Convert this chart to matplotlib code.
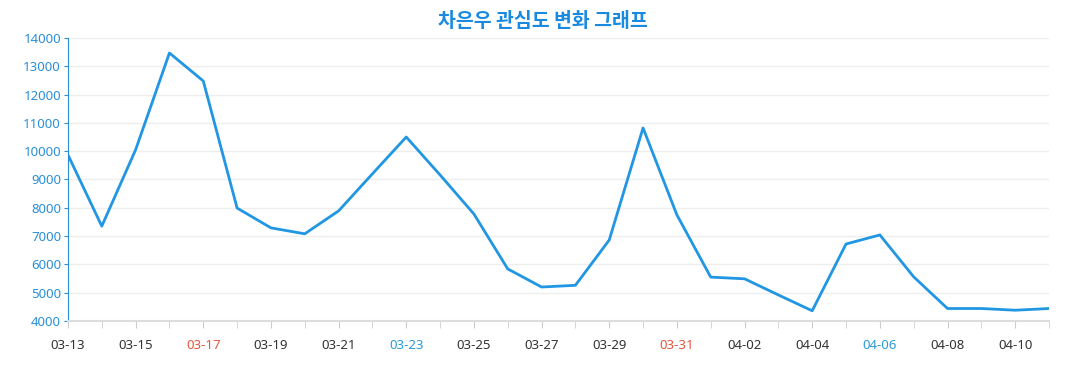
import matplotlib
matplotlib.use('Agg')
import matplotlib.pyplot as plt
import numpy as np

dates = ['03-13', '03-14', '03-15', '03-16', '03-17', '03-18', '03-19', '03-20',
         '03-21', '03-22', '03-23', '03-24', '03-25', '03-26', '03-27', '03-28',
         '03-29', '03-30', '03-31', '04-01', '04-02', '04-03', '04-04', '04-05',
         '04-06', '04-07', '04-08', '04-09', '04-10', '04-11']
values = [9870, 7350, 10050, 13470, 12480, 7990, 7290, 7080,
          7890, 9200, 10500, 9160, 7780, 5840, 5200, 5260,
          6860, 10820, 7750, 5550, 5490, 4920, 4360, 6720,
          7040, 5560, 4440, 4440, 4380, 4440]
red_days = ['03-17', '03-31']
blue_days = ['03-23', '04-06']

plt.rcParams['font.family'] = ['Noto Sans', 'Noto Sans CJK KR', 'DejaVu Sans']

fig = plt.figure(figsize=(10.77, 3.9), dpi=100)
ax = fig.add_axes([0.0631, 0.177, 0.9109, 0.7256])

x = np.arange(len(dates))
ax.plot(x, values, color='#2196e3', linewidth=2)

ax.set_xlim(0, len(dates) - 1)
ax.set_ylim(4000, 14000)
ax.set_yticks(np.arange(4000, 14001, 1000))
ax.set_xticks(x, minor=True)
ax.set_xticks(x[::2])
ax.set_xticklabels(dates[::2])

ax.grid(axis='y', color='#eeeeee', linewidth=1)
ax.set_axisbelow(True)

for s in ['top', 'right']:
    ax.spines[s].set_visible(False)
ax.spines['left'].set_color('#2a8fd8')
ax.spines['bottom'].set_color('#dddddd')
ax.spines['bottom'].set_linewidth(1.5)

ax.tick_params(axis='y', colors='#2a8fd8', labelsize=9.5, length=3, pad=2)
ax.tick_params(axis='x', which='both', color='#cccccc', length=5, labelsize=9.5,
               labelcolor='#333333', pad=8)

for lbl in ax.get_xticklabels():
    t = lbl.get_text()
    if t in red_days:
        lbl.set_color('#e2583e')
    elif t in blue_days:
        lbl.set_color('#2a9ad6')

fig.text(0.504, 0.945, '차은우 관심도 변화 그래프', ha='center', va='center',
         fontsize=14, fontweight='bold', color='#1a8ae0',
         family=['Noto Sans CJK KR', 'DejaVu Sans'])

fig.savefig('out.png', dpi=100)
